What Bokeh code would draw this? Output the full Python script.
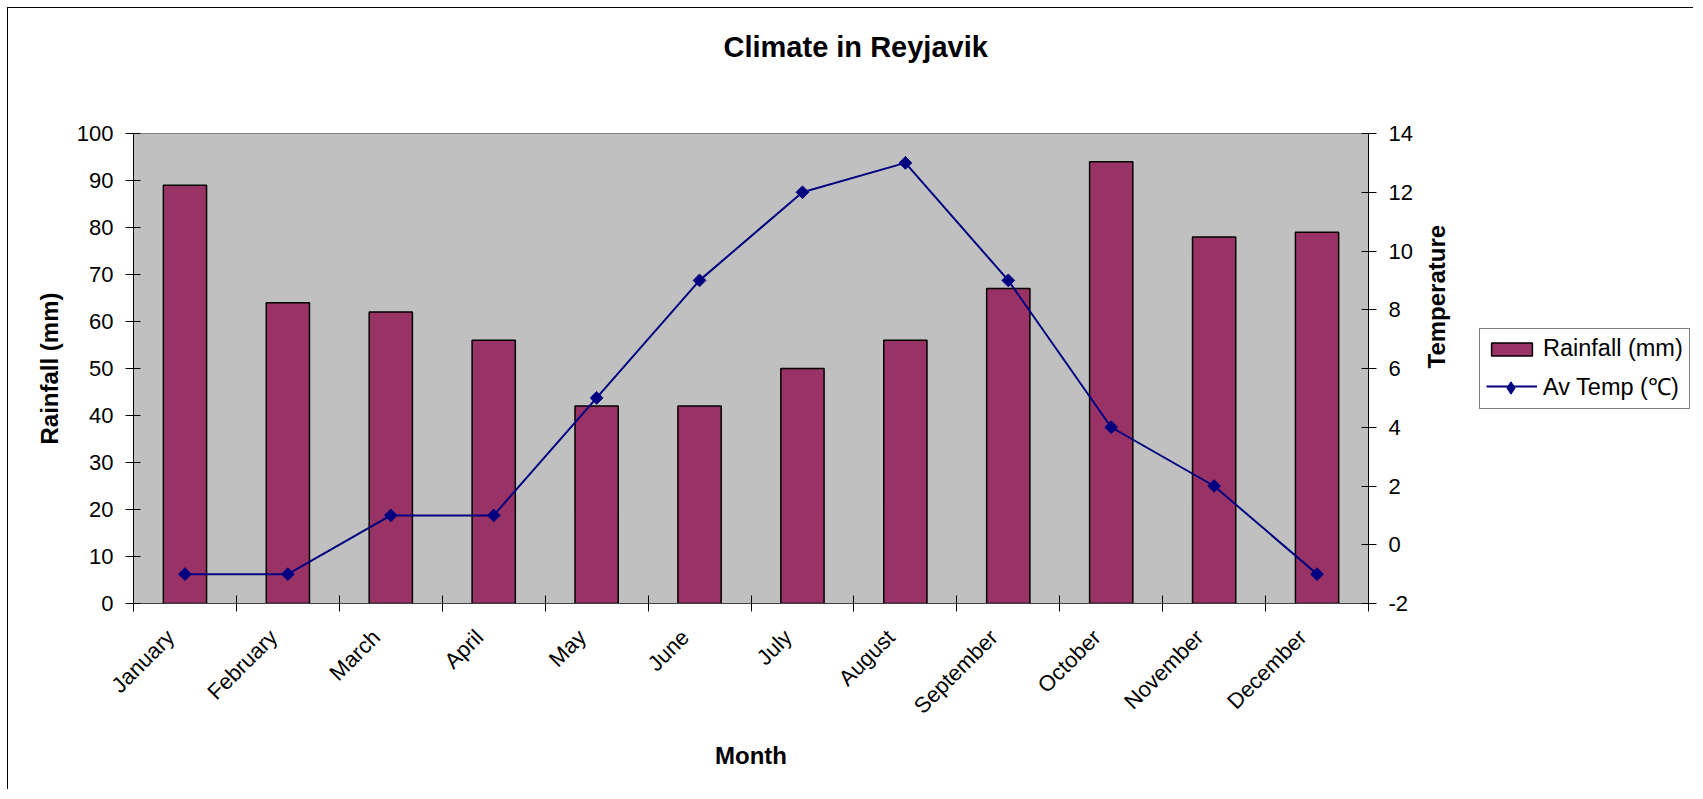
import math
from bokeh.plotting import figure
from bokeh.layouts import row
from bokeh.models import (Range1d, LinearAxis, FixedTicker, Legend, LegendItem,
                          ColumnDataSource, Title)
from bokeh.embed import file_html
from bokeh.resources import INLINE

months = ["January", "February", "March", "April", "May", "June", "July",
          "August", "September", "October", "November", "December"]
rainfall = [89, 64, 62, 56, 42, 42, 50, 56, 67, 94, 78, 79]
temperature = [-1, -1, 1, 1, 5, 9, 12, 13, 9, 4, 2, -1]
rain_ticks = list(range(0, 101, 10))
temp_ticks = list(range(-2, 15, 2))

FONT = "Liberation Sans"
BAR = "#993366"
LINE = "#000080"

xpos = [i + 0.5 for i in range(len(months))]
label_pos = [x - 0.14 for x in xpos]   # rotated labels end just left of centre
src = ColumnDataSource(dict(x=xpos, rain=rainfall, temp=temperature, month=months))

H = 781
p = figure(width=1462, height=H, output_backend="svg", toolbar_location=None,
           x_range=Range1d(0, len(months)), y_range=Range1d(0, 100),
           x_axis_type=None, y_axis_type=None, title=None,
           min_border_left=125, min_border_right=102, min_border_top=125,
           min_border_bottom=186,
           background_fill_color="#C0C0C0", border_fill_color="white",
           outline_line_color="#808080", outline_line_width=1)
p.extra_y_ranges = {"temp": Range1d(-2, 14)}
p.xgrid.visible = False
p.ygrid.visible = False

# spacer between frame and title, then the title itself
p.add_layout(Title(text=" ", text_font_size="1px", standoff=63), "above")
p.add_layout(Title(text="Climate in Reyjavik", align="left", offset=590, standoff=10,
                   text_font=FONT, text_font_size="29px", text_font_style="bold",
                   text_color="black"), "above")

def style_axis(ax):
    ax.major_label_text_font = FONT
    ax.major_label_text_font_size = "22px"
    ax.major_label_text_color = "black"
    ax.axis_label_text_font = FONT
    ax.axis_label_text_font_size = "24px"
    ax.axis_label_text_font_style = "bold"
    ax.axis_label_text_color = "black"
    ax.axis_line_color = "black"
    ax.axis_line_width = 1
    ax.major_tick_line_color = "black"
    ax.major_tick_in = 7
    ax.major_tick_out = 8
    ax.minor_tick_line_color = None

# x axis: labels near category centres, ticks at category boundaries
xax = LinearAxis(ticker=FixedTicker(ticks=label_pos,
                                    minor_ticks=list(range(len(months) + 1))),
                 axis_label="Month")
style_axis(xax)
xax.major_label_overrides = {xv: m for xv, m in zip(label_pos, months)}
xax.major_tick_line_color = None
xax.minor_tick_line_color = "black"
xax.minor_tick_in = 8
xax.minor_tick_out = 8
xax.major_label_orientation = math.pi / 4
xax.major_label_standoff = 22
xax.axis_label_standoff = 12
xax.axis_line_color = "#404040"
p.add_layout(xax, "below")

lax = LinearAxis(ticker=FixedTicker(ticks=rain_ticks), axis_label="Rainfall (mm)")
style_axis(lax)
lax.major_label_standoff = 12
lax.axis_label_standoff = 11
p.add_layout(lax, "left")

rax = LinearAxis(y_range_name="temp", ticker=FixedTicker(ticks=temp_ticks),
                 axis_label="Temperature")
style_axis(rax)
rax.major_label_standoff = 12
rax.axis_label_standoff = 21
rax.major_label_overrides = {t: str(t) for t in temp_ticks}
try:
    rax.axis_label_orientation = math.pi / 2
except Exception:
    pass
p.add_layout(rax, "right")

bars = p.vbar(x="x", top="rain", bottom=0, width=0.42, source=src,
              fill_color=BAR, line_color="black", line_width=1.5)
line = p.line(x="x", y="temp", source=src, y_range_name="temp",
              line_color=LINE, line_width=2)
pts = p.scatter(x="x", y="temp", source=src, y_range_name="temp",
                marker="square", angle=math.pi / 4, size=9,
                fill_color=LINE, line_color=LINE)

# legend panel to the right of the chart; its proxy glyphs hold no drawable point
nan = float("nan")
proxy = ColumnDataSource(dict(x=[nan], y=[nan]))
lg = figure(width=223, height=H, output_backend="svg", toolbar_location=None,
            x_range=Range1d(0, 1), y_range=Range1d(0, 1),
            x_axis_type=None, y_axis_type=None, title=None,
            min_border=0, outline_line_color=None,
            background_fill_color="white", border_fill_color="white")
lg.xgrid.visible = False
lg.ygrid.visible = False
lbar = lg.vbar(x="x", top="y", bottom=0, width=0.42, source=proxy,
               fill_color=BAR, line_color="black", line_width=1.5)
lline = lg.line(x="x", y="y", source=proxy, line_color=LINE, line_width=2)
lpts = lg.scatter(x="x", y="y", source=proxy, marker="diamond",
                  size=12, fill_color=LINE, line_color=LINE)

legend_style = dict(orientation="vertical", label_text_font=FONT,
                    label_text_font_size="23.5px", label_text_color="black",
                    glyph_width=51, label_standoff=6, margin=0)

legend = Legend(items=[LegendItem(label="Rainfall (mm)", renderers=[lbar]),
                       LegendItem(label="Av Temp (℃)", renderers=[lline])],
                location=(9, 194), border_line_color="black", border_line_width=1,
                background_fill_color="white", background_fill_alpha=1,
                glyph_height=16, padding=6, spacing=8, **legend_style)
lg.add_layout(legend)

# marker of the temperature entry, drawn over the line swatch
marker_legend = Legend(items=[LegendItem(label=" ", renderers=[lpts])],
                       location=(15, 200), border_line_color=None,
                       background_fill_alpha=0, glyph_height=31, padding=0,
                       spacing=0, **legend_style)
lg.add_layout(marker_legend)

layout = row(p, lg, spacing=0)
layout.styles = {"border-left": "1px solid black", "border-top": "1px solid black",
                 "margin-left": "7px", "margin-top": "7px"}

open("out.html", "w").write(file_html(layout, INLINE))
